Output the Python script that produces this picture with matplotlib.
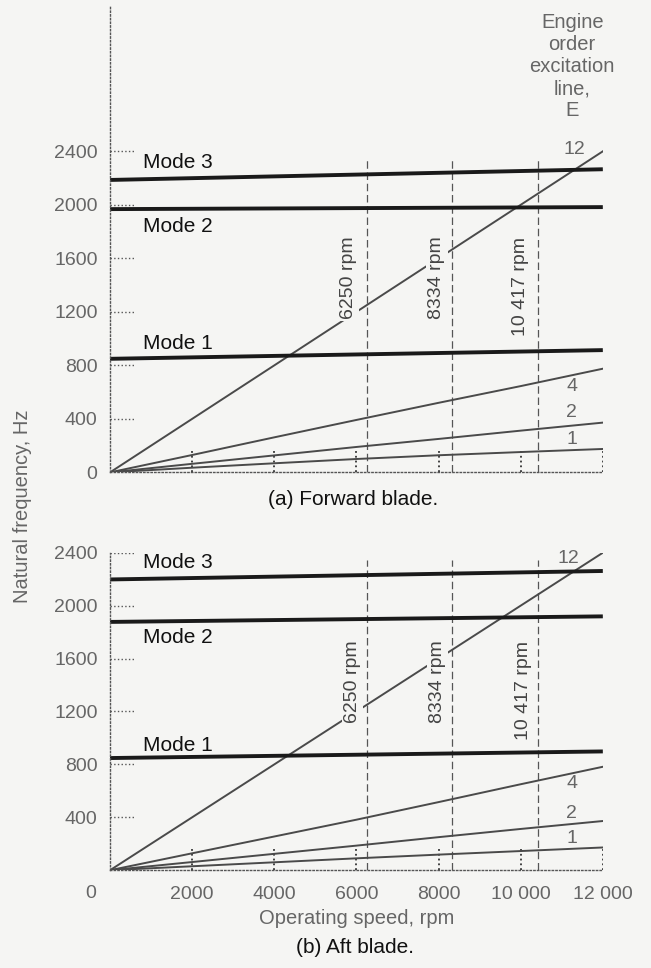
import matplotlib.pyplot as plt
import numpy as np

plt.rcParams['font.family'] = ['Liberation Sans', 'DejaVu Sans']

# operating speed points, rpm
rpm = [0, 2000, 4000, 6000, 8000, 10000, 12000]
mode_rpm = [0, 12000]

# (a) forward blade
fwd_e12 = [0, 400, 800, 1200, 1600, 2000, 2400]
fwd_e4 = [0, 130, 262, 392, 520, 645, 775]
fwd_e2 = [0, 64, 127, 190, 250, 312, 372]
fwd_e1 = [0, 35, 68, 100, 128, 152, 175]
fwd_mode1 = [849, 914]
fwd_mode2 = [1968, 1983]
fwd_mode3 = [2186, 2266]

# (b) aft blade
aft_e12 = [0, 400, 800, 1200, 1600, 2000, 2400]
aft_e4 = [0, 128, 255, 382, 515, 650, 782]
aft_e2 = [0, 62, 124, 186, 250, 312, 372]
aft_e1 = [0, 30, 60, 90, 118, 145, 172]
aft_mode1 = [848, 898]
aft_mode2 = [1877, 1919]
aft_mode3 = [2198, 2262]

crit_rpm = [6250, 8334, 10417]
crit_labels = ['6250 rpm', '8334 rpm', '10 417 rpm']
yticks = [400, 800, 1200, 1600, 2000, 2400]
xticks = [2000, 4000, 6000, 8000, 10000, 12000]
xticklabels = ['2000', '4000', '6000', '8000', '10 000', '12 000']

bg = '#f5f5f3'
grey = '#666666'
fig = plt.figure(figsize=(6.51, 9.68), dpi=100, facecolor=bg)
ax1 = fig.add_axes([0.169, 0.512, 0.757, 0.483])
ax2 = fig.add_axes([0.169, 0.101, 0.757, 0.328])


def draw(ax, e12, e4, e2, e1, m1, m2, m3, ytop, crit_pos, lab12, lab_ord):
    ax.set_facecolor(bg)
    ax.set_xlim(0, 12000)
    ax.set_ylim(0, ytop)
    for s in ['top', 'right']:
        ax.spines[s].set_visible(False)
    for s in ['left', 'bottom']:
        ax.spines[s].set_linestyle(':')
        ax.spines[s].set_color('#555555')
        ax.spines[s].set_linewidth(1.0)
    # short dotted marks standing in for ticks
    ax.hlines(yticks, 0, 600, colors='#555555', linestyles=':', lw=1.0)
    ax.vlines(xticks, 0, 175, colors='#333333', linestyles=':', lw=1.3)
    # critical speeds
    ax.vlines(crit_rpm, 0, 2345, colors='#555555', linestyles=(0, (6, 3)), lw=0.9)
    # excitation lines
    for e in [e12, e4, e2, e1]:
        ax.plot(rpm, e, color='#4a4a4a', lw=1.4)
    # blade modes
    for m in [m1, m2, m3]:
        ax.plot(mode_rpm, m, color='#1a1a1a', lw=2.8, solid_capstyle='butt')
    ax.tick_params(length=0, labelsize=14, colors=grey)
    ax.tick_params(axis='y', pad=9)
    ax.set_yticks(yticks)
    ax.set_xticks(xticks)
    for txt, y in zip(['Mode 3', 'Mode 2', 'Mode 1'], lab_ord[0]):
        ax.text(800, y, txt, fontsize=15, color='#111111', va='center', ha='left')
    for txt, (x, y) in zip(crit_labels, crit_pos):
        ax.text(x, y, txt, rotation=90, fontsize=14, color='#444444', ha='center',
                va='center', bbox=dict(facecolor=bg, edgecolor='none', pad=1.5))
    for txt, (x, y) in zip(['12', '4', '2', '1'], lab12):
        ax.text(x, y, txt, fontsize=14, color=grey, ha='center', va='center')


draw(ax1, fwd_e12, fwd_e4, fwd_e2, fwd_e1, fwd_mode1, fwd_mode2, fwd_mode3, 3495,
     [(5815, 1454), (7960, 1454), (10000, 1386)],
     [(11318, 2411), (11245, 640), (11245, 444), (11245, 243)],
     [[2314, 1835, 960]])
ax1.set_yticks([0] + yticks)
ax1.set_xticklabels([])

draw(ax2, aft_e12, aft_e4, aft_e2, aft_e1, aft_mode1, aft_mode2, aft_mode3, 2400,
     [(5910, 1426), (7980, 1426), (10070, 1358)],
     [(11150, 2355), (11245, 657), (11245, 430), (11245, 241)],
     [[2325, 1758, 943]])
ax2.set_xticklabels(xticklabels)
ax2.tick_params(axis='x', pad=11)
ax2.text(-480, -0.072, '0', transform=ax2.get_xaxis_transform(), fontsize=14,
         color=grey, ha='center', va='center')
ax2.set_xlabel('Operating speed, rpm', fontsize=14.5, color=grey, labelpad=5)

fig.text(0.034, 0.477, 'Natural frequency, Hz', rotation=90, fontsize=14.5,
         color=grey, ha='center', va='center')
fig.text(0.879, 0.931, 'Engine\norder\nexcitation\nline,\nE', fontsize=14.5,
         color=grey, ha='center', va='center', linespacing=1.2)
fig.text(0.542, 0.4835, '(a) Forward blade.', fontsize=15, color='#111111',
         ha='center', va='center')
fig.text(0.545, 0.0207, '(b) Aft blade.', fontsize=15, color='#111111',
         ha='center', va='center')

plt.savefig('out.png', dpi=100, facecolor=bg)
